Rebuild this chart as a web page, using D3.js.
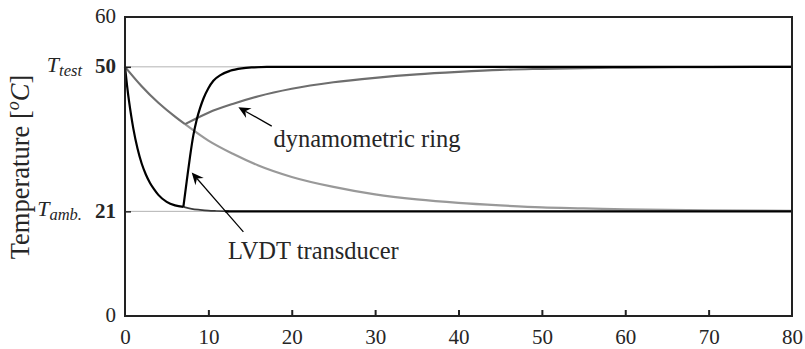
<!DOCTYPE html>
<html>
<head>
<meta charset="utf-8">
<script src="https://cdn.jsdelivr.net/npm/d3@7"></script>
<style>
  html, body { margin: 0; padding: 0; background: #fff; }
  svg { display: block; }
  text { font-family: "Liberation Serif", "DejaVu Serif", serif; fill: #262626; }
</style>
</head>
<body>
<svg id="chart" width="805" height="349"></svg>
<script>
// ---------- data ----------
const xTicks = [0, 10, 20, 30, 40, 50, 60, 70, 80];
const yTicks = [0, 21, 50, 60];
const yTickLabels = ["0", "21", "50", "60"];
const refLevels = [21, 50];

// LVDT transducer: cooling (black), tail of cooling (dark), heating (black), flat at ambient
const lvdtCoolX = [0, 0.25, 0.5, 0.75, 1, 1.5, 2, 2.5, 3, 3.5, 4, 5, 6, 7];
const lvdtCoolY = [50, 46.2, 42.9, 40.1, 37.6, 33.6, 30.6, 28.4, 26.7, 25.4, 24.3, 22.9, 22.2, 21.9];
const lvdtTailX = [7, 8, 9, 10, 11, 12.5];
const lvdtTailY = [21.9, 21.5, 21.3, 21.15, 21.08, 21.0];
const lvdtAmbX = [12, 80];
const lvdtAmbY = [21, 21];
const lvdtHeatX = [7, 7.4, 7.8, 8.2, 8.6, 9, 9.4, 10, 10.6, 11.5, 12.6, 14, 15.5, 17, 19, 80];
const lvdtHeatY = [21.9, 27, 32, 36.3, 39.4, 41.7, 43.6, 45.7, 47.2, 48.4, 49.2, 49.7, 49.9, 50, 50, 50];

// dynamometric ring: cooling (dark grey), cooling tail (light grey), heating (dark grey)
const ringCoolX = [0, 2, 4, 6, 7.2];
const ringCoolY = [50, 46.1, 42.8, 40.0, 38.5];
const ringTailX = [7.2, 10, 13, 16, 20, 25, 30, 35, 40, 45, 50, 55, 60, 70, 80];
const ringTailY = [38.5, 35.2, 32.5, 30.2, 27.9, 25.9, 24.4, 23.4, 22.7, 22.2, 21.8, 21.6, 21.4, 21.2, 21.1];
const ringHeatX = [7.2, 10, 13, 16, 20, 25, 30, 35, 40, 45, 50, 55, 60, 70, 80];
const ringHeatY = [38.5, 40.8, 42.6, 44.1, 45.6, 46.9, 47.8, 48.5, 49.0, 49.4, 49.6, 49.75, 49.85, 49.95, 50];

// annotations
const annoText = ["dynamometric ring", "LVDT transducer"];
const annoTextX = [17.8, 12.35];
const annoTextY = [33.9, 11.4];
const annoTailX = [17.6, 14.2];
const annoTailY = [38.1, 16.9];
const annoTipX = [13.6, 8.0];
const annoTipY = [41.9, 28.8];

// ---------- layout ----------
const svg = d3.select("#chart");
const L = 125, R = 792, T = 17, B = 316;
const x = d3.scaleLinear().domain([0, 80]).range([L, R]);
const y = d3.scaleLinear().domain([0, 60]).range([B, T]);
const axisColor = "#222";

// reference lines
svg.append("g").selectAll("line").data(refLevels).join("line")
  .attr("x1", L).attr("x2", R)
  .attr("y1", d => y(d)).attr("y2", d => y(d))
  .attr("stroke", "#b3b3b3").attr("stroke-width", 1);

const zip = (a, b) => a.map((v, i) => [v, b[i]]);

function drawSeries(xs, ys, color, w, curve) {
  const line = d3.line().x(d => x(d[0])).y(d => y(d[1])).curve(curve || d3.curveMonotoneX);
  svg.append("path").datum(zip(xs, ys))
    .attr("d", line).attr("fill", "none")
    .attr("stroke", color).attr("stroke-width", w)
    .attr("stroke-linejoin", "round");
}

drawSeries(ringTailX, ringTailY, "#999", 2.2);
drawSeries(ringCoolX, ringCoolY, "#707070", 2.2, d3.curveNatural);
drawSeries(ringHeatX, ringHeatY, "#6e6e6e", 2.2);
drawSeries(lvdtTailX, lvdtTailY, "#3a3a3a", 1.6);
drawSeries(lvdtAmbX, lvdtAmbY, "#000", 2.4);
drawSeries(lvdtCoolX, lvdtCoolY, "#000", 2.2);
drawSeries(lvdtHeatX, lvdtHeatY, "#000", 2.2);

// axes
const xAxis = d3.axisBottom(x).tickValues(xTicks).tickSizeInner(-6).tickSizeOuter(0).tickPadding(13).tickFormat(d3.format("d"));
const gx = svg.append("g").attr("transform", `translate(0,${B})`).call(xAxis);
gx.select(".domain").remove();
gx.selectAll(".tick line").attr("stroke", axisColor).attr("stroke-width", 2)
  .attr("display", d => (d === 0 || d === 80) ? "none" : null);
gx.selectAll(".tick text").attr("font-size", 21).attr("font-family", "Liberation Serif").attr("fill", axisColor);

const yAxis = d3.axisLeft(y).tickValues(yTicks).tickSizeInner(-6).tickSizeOuter(0).tickPadding(9)
  .tickFormat((d, i) => yTickLabels[i]);
const gy = svg.append("g").attr("transform", `translate(${L},0)`).call(yAxis);
gy.select(".domain").remove();
gy.selectAll(".tick line").attr("stroke", axisColor).attr("stroke-width", 1.5)
  .attr("display", d => (d === 0 || d === 60) ? "none" : null);
gy.selectAll(".tick text").attr("font-size", 21).attr("font-family", "Liberation Serif")
  .attr("fill", axisColor).attr("dy", "0.27em")
  .attr("font-weight", d => refLevels.includes(d) ? "bold" : null);

// symbolic labels for the reference levels
const symMain = ["T", "T"];
const symSub = ["test", "amb."];
const symVal = [50, 21];
symVal.forEach((v, i) => {
  const t = svg.append("text").attr("x", 82).attr("y", y(v) + 5).attr("text-anchor", "end")
    .attr("font-style", "italic").attr("fill", axisColor);
  t.append("tspan").attr("font-size", 22).text(symMain[i]);
  t.append("tspan").attr("font-size", 16.5).attr("dy", 4).text(symSub[i]);
});

// frame
svg.append("rect").attr("x", L).attr("y", T).attr("width", R - L).attr("height", B - T)
  .attr("fill", "none").attr("stroke", axisColor).attr("stroke-width", 2);

// y title
const yt = svg.append("text").attr("transform", `translate(29,167) rotate(-90)`)
  .attr("text-anchor", "middle").attr("font-size", 26.5).attr("fill", axisColor);
yt.append("tspan").text("Temperature [");
yt.append("tspan").attr("font-style", "italic").attr("font-size", 18).attr("dy", -10).text("o");
yt.append("tspan").attr("font-style", "italic").attr("dy", 10).text("C");
yt.append("tspan").text("]");

// annotations
annoText.forEach((s, i) => {
  svg.append("text").attr("x", x(annoTextX[i])).attr("y", y(annoTextY[i]))
    .attr("font-size", 24.5).attr("fill", "#222").text(s);
  const x1 = x(annoTailX[i]), y1 = y(annoTailY[i]);
  const x2 = x(annoTipX[i]), y2 = y(annoTipY[i]);
  const ang = Math.atan2(y2 - y1, x2 - x1);
  const hl = 12, hw = 5.5, notch = 8;
  const ux = Math.cos(ang), uy = Math.sin(ang);
  const px = -uy, py = ux;
  svg.append("line").attr("x1", x1).attr("y1", y1)
    .attr("x2", x2 - ux * notch).attr("y2", y2 - uy * notch)
    .attr("stroke", "#000").attr("stroke-width", 1.2);
  const pts = [
    [x2, y2],
    [x2 - ux * hl + px * hw, y2 - uy * hl + py * hw],
    [x2 - ux * notch, y2 - uy * notch],
    [x2 - ux * hl - px * hw, y2 - uy * hl - py * hw]
  ];
  svg.append("path").attr("d", "M" + pts.map(p => p.join(",")).join("L") + "Z").attr("fill", "#000");
});
</script>
</body>
</html>
